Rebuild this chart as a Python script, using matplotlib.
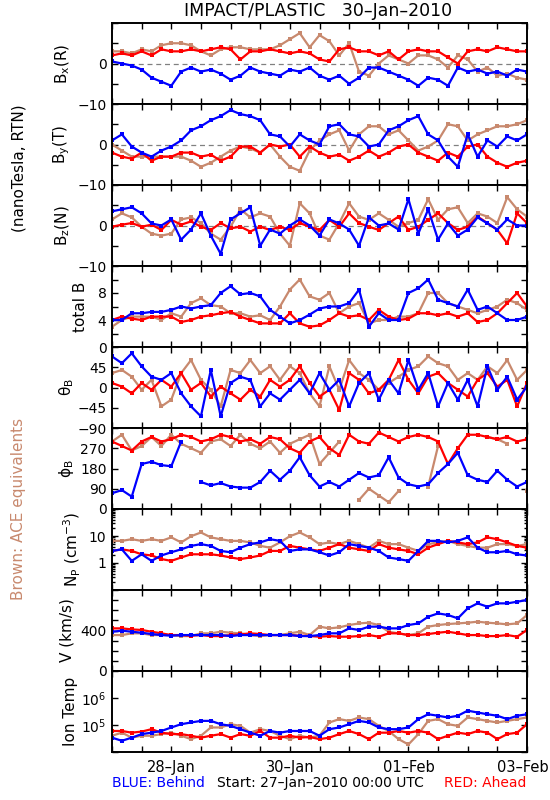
"""STEREO IMPACT/PLASTIC summary plot, 27-Jan to 03-Feb 2010.

Nine stacked panels (B components, |B|, field angles, density, speed,
ion temperature) for STEREO Behind (blue), Ahead (red) and ACE (brown).
"""

import matplotlib

matplotlib.use("Agg")
import matplotlib.pyplot as plt
import matplotlib.ticker as mticker
import matplotlib.transforms as mtransforms
import numpy as np

BLUE = "#0000ff"
RED = "#ff0000"
BROWN = "#c8896e"

plt.rcParams["font.family"] = ["DejaVu Sans"]
plt.rcParams["mathtext.default"] = "regular"

# 4-hourly samples, days since 27-Jan-2010 00:00 UTC
t_days = np.arange(43) / 6.0

day_ticks = [1, 3, 5, 7]
day_labels = ["28\u2013Jan", "30\u2013Jan", "01\u2013Feb", "03\u2013Feb"]

# --- B components (nT) ---
bx_ahead = [2, 2.5, 2, 3, 2, 3.5, 3, 3, 3.5, 3, 3.5, 4, 3.5, 1, 3, 3, 3.5,
            3, 2.5, 3, 2.5, 1, 0.5, 3.5, 4, 3, 3, 2, 3, 1, 3, 3.5, 3, 3,
            1.5, 0, 3, 3.5, 3, 4, 3.5, 3, 3]
bx_behind = [0.5, 0, -0.5, -1.5, -3.5, -4.5, -5.5, -2, -1, -2, -1.5, -2.5,
             -4, -3, -1, -2, -2.5, -3, -1.5, -2, -1, -3, -4, -3, -5, -3.5,
             -1, -1, -2, -3, -4, -5.5, -3.5, -4, -5.5, -1, -2, -1.5, -2.5,
             -2, -3, -1.5, -2]
bx_ace = [3, 3, 2.5, 3.5, 3, 4.5, 5, 5, 4.5, 3, 2, 3.5, 4, 4, 3.5, 3.5, 3.5,
          4.5, 6, 7.5, 4, 7, 5.5, 2, 5, -2, -3, 0, 2, 1, 0, 2, 2, 1, -1, 2,
          1, -2, -1, -3, -2.5, -3.5, -4]

by_ahead = [-2, -3, -3.5, -2, -4, -3, -3, -2, -2, -3, -2.5, -4, -3, -0.5,
            -0.5, -2, 0, -0.5, 0, -3, -0.5, -2, -3, -2.5, -4, -3, -1.5, -3,
            -2, -0.5, 0, -2, -3, -4, -2, -3, -0.5, 0, -3, -4.5, -5.5, -4.5,
            -4]
by_behind = [1, 2.5, -0.5, -2, -3, -1.5, -0.5, 1, 3.5, 4.5, 6, 7, 8.5, 7.5,
             7, 6, 2.5, 2, -0.5, 2.5, 1, 0, 4.5, 5, 2.5, 2, -0.5, 0, 3.5,
             4.5, 6, 7, 2.5, 1, -3, -5.5, 2.5, -3, 1, -0.5, 2, 1, 2.5]
by_ace = [0, -1.5, -3, -3, -3, -3, -3, -3, -4, -5.5, -4.5, -3, -1.5, -0.5,
          -1, -2, 0, -3, -5.5, -6.5, -1.5, 1, 2.5, 3.5, -1.5, 2.5, 4.5, 4.5,
          2.5, 3.5, 1, -1.5, -0.5, 1, 5, 4.5, 1, 2.5, 3.5, 4.5, 4.5, 5, 6]

bz_ahead = [-0.3, 0.2, 0.6, -0.3, 0.2, -1.1, 1.4, 0.2, 1, -0.3, -1.1, 0.6,
            -0.7, -0.3, -1.5, -0.3, -1.1, -0.3, -1.1, 0.6, -0.3, -1.1, 1.4,
            -0.3, 3, 0.6, -0.3, -1.1, 0.6, 2.2, -1.1, -0.3, 1.4, 3, 0.6,
            -1.1, -0.3, 2.2, 0.6, -1.1, -4.4, 3, 0.6]
bz_behind = [3.5, 4, 4.5, 3, 0.5, 0, 1.5, -3.5, -1, 3, -2.5, -7, 1.5, 3, 4.5,
             -5, -1, -2, 0, 1.5, 0, -2.5, 1.5, 0.5, -1, -5, 2, 0, 0.5, -1,
             6.5, -2, 4, -3.5, 0.5, -2.5, -1, 2, 0.5, -1, 1.5, 0, 0]
bz_ace = [1.5, 3, 2, -0.3, -2, -2.5, -2, 1.5, 2, 0.6, -2, -3.5, -0.3, 4, 2,
          3, 2.2, -2, -5, 5.5, 3, -2.5, -3.5, 0.6, 5.5, 2.2, 1.4, 3, 1.4,
          -0.3, 0.6, 1.4, 6.5, 1.4, 4, 4.5, 0.6, 3, 2.2, 0.6, 7, 4, 2.2]

btot_ahead = [4, 4.5, 4.2, 4, 4.5, 4.5, 4.5, 3.7, 4, 4.5, 4.7, 5, 5.2, 4.5,
              4, 3.5, 3.5, 3.5, 5, 3.5, 3, 3.2, 4, 5, 4.5, 4.7, 4, 5.5, 4.5,
              4, 4.2, 5, 5, 4.7, 5, 4.5, 5, 3.7, 4, 5, 6.5, 8, 6]
btot_behind = [4, 4, 5, 5, 5.2, 5.2, 5.5, 6, 5.7, 6, 6.2, 8, 9, 7.8, 8, 7.5,
               5.5, 4.5, 3.5, 4, 4.8, 5.7, 6, 6, 6.5, 8.5, 3, 5, 4, 4, 8,
               8.7, 10, 7, 6.5, 6, 8.5, 5.5, 6, 5, 4, 4, 4.5]
btot_ace = [3, 4, 4.5, 4.5, 4.5, 4, 5, 4.5, 6.5, 7.2, 6.2, 6, 5, 5, 4.5, 4.7,
            4, 6, 8.5, 10, 7.5, 7, 8, 5, 6, 6.5, 3.5, 4, 4, 4.5, 4.5, 5, 8,
            8, 6.5, 6, 5.5, 5, 5.5, 6, 7, 6.5, 5.5]

# --- field angles (deg) ---
theta_ahead = [10, 2, -13, 10, -5, 17, 2, 32, -5, 10, -20, 2, -13, -27, -5,
               -20, 17, 2, 17, 47, 10, -20, -5, -50, 32, 17, -13, -5, 17, 61,
               17, -13, 24, 32, 10, -5, -20, 17, 32, 2, 17, -42, 10]
theta_behind = [69, 54, 76, 47, 24, 17, 32, -13, -42, -64, 39, -64, 10, 24,
                17, -42, -13, -27, -5, 17, -13, 32, -5, 17, -42, 10, 32, -27,
                17, -13, 61, -5, 32, -42, 10, -27, 17, -42, 47, -5, 24, -27, 2]
theta_ace = [32, 39, 24, -5, 17, -42, -27, 32, 61, 17, -5, -42, 39, 32, 61,
             32, 47, 17, 47, 32, -13, -42, 47, -5, 61, 32, 17, -5, 10, 24, 39,
             47, 69, 54, 47, 17, 32, 17, 47, 32, 61, 17, 39]

phi_ahead = [300, 280, 260, 300, 320, 300, 310, 330, 320, 300, 310, 330, 320,
             300, 310, 290, 320, 310, 270, 250, 300, 320, 270, 240, 330, 300,
             290, 340, 320, 300, 320, 330, 320, 300, 200, 270, 330, 330, 320,
             310, 320, 300, 310]
phi_behind = [70, 84, 55, 200, 210, 195, 190, 300, 110, 120, 105, 115, 100,
              95, 95, 120, 170, 130, 170, 230, 150, 100, 120, 100, 130, 160,
              140, 150, 230, 140, 110, 100, 110, 160, 200, 250, 150, 130, 120,
              170, 130, 100, 120]
phi_ace = [300, 330, 260, 280, 320, 280, 330, 290, 270, 250, 300, 310, 280,
           330, 290, 270, 300, 250, 290, 310, 330, 200, 250, 300, 20, 40, 90,
           60, 30, 80, 350, 60, 100, 280, 70, 300, 90, 300, 320, 310, 290, 60,
           80]

# --- plasma ---
np_ahead = [2.8, 3.2, 2.8, 2.1, 1.9, 1.4, 1.2, 1.6, 2.1, 2.1, 2.1, 1.9, 1.6,
            1.4, 1.6, 1.9, 2.8, 2.8, 4.3, 3.7, 3.2, 2.8, 3.7, 5.0, 3.7, 3.2,
            2.8, 5.0, 3.7, 3.2, 2.8, 2.1, 3.7, 5.0, 6.6, 5.8, 5.0, 5.8, 8.9,
            7.6, 5.8, 4.3, 3.7]
np_behind = [2.8, 3.2, 1.2, 2.1, 1.2, 1.9, 2.5, 3.2, 4.3, 5.0, 4.3, 2.8, 2.5,
             3.7, 5.0, 5.8, 7.6, 6.6, 2.8, 3.2, 3.2, 2.5, 1.9, 2.5, 5.0, 4.3,
             3.7, 2.8, 1.6, 1.4, 1.2, 2.8, 6.6, 6.6, 5.8, 6.6, 8.9, 3.7, 2.5,
             2.5, 2.8, 2.1, 1.9]
np_ace = [6.6, 6.6, 7.6, 6.6, 7.6, 6.6, 8.9, 5.8, 9.8, 13.5, 8.9, 7.6, 6.6,
          6.6, 5.8, 4.3, 3.7, 5.8, 9.8, 13.5, 8.9, 5.0, 5.8, 5.0, 6.6, 5.0,
          3.7, 6.6, 5.0, 5.0, 3.7, 2.8, 5.0, 5.8, 6.6, 5.0, 4.3, 3.7, 3.7,
          5.0, 5.0, 4.3, 5.0]

v_ahead = [421, 421, 411, 405, 388, 372, 355, 355, 349, 355, 345, 345, 355,
           362, 372, 365, 355, 355, 355, 349, 345, 339, 345, 339, 339, 345,
           355, 339, 372, 372, 355, 355, 365, 378, 388, 372, 355, 355, 345,
           345, 355, 339, 405]
v_behind = [388, 398, 388, 378, 365, 355, 349, 355, 355, 355, 355, 355, 345,
            355, 355, 355, 355, 355, 355, 345, 345, 355, 372, 372, 421, 405,
            438, 438, 421, 421, 454, 470, 536, 569, 553, 520, 619, 668, 635,
            668, 668, 684, 701]
v_ace = [355, 355, 372, 372, 355, 355, 355, 345, 345, 372, 372, 388, 378, 372,
         355, 345, 355, 355, 372, 388, 355, 438, 421, 431, 454, 470, 477, 454,
         388, 372, 355, 372, 438, 454, 464, 470, 477, 487, 477, 470, 461, 470,
         553]

temp_ahead = [6e4, 6e4, 5.2e4, 5.7e4, 7e4, 5.2e4, 4.6e4, 4.6e4, 4e4, 3.4e4,
              4e4, 4.6e4, 3.4e4, 4.6e4, 4e4, 6e4, 3.4e4, 3.4e4, 4e4, 3.4e4,
              3.6e4, 3e4, 3.4e4, 4.6e4, 6e4, 4.6e4, 3e4, 5.2e4, 5.2e4, 6e4,
              5.2e4, 6e4, 5.2e4, 3e4, 4e4, 5.2e4, 4.6e4, 6e4, 5.2e4, 3e4,
              4.6e4, 5.2e4, 1.07e5]
temp_behind = [3.4e4, 2.6e4, 3.4e4, 4.6e4, 5.2e4, 6e4, 8.1e4, 1.07e5, 1.24e5,
               1.42e5, 1.42e5, 1.07e5, 9.3e4, 7e4, 5.2e4, 4e4, 6e4, 5.2e4,
               6e4, 6e4, 6e4, 4e4, 7e4, 8.1e4, 1.07e5, 1.42e5, 1.24e5, 8.1e4,
               7e4, 7e4, 8.1e4, 1.65e5, 2.5e5, 2.2e5, 1.9e5, 2.2e5, 3.4e5,
               2.9e5, 2.5e5, 2.2e5, 1.65e5, 2.2e5, 2.5e5]
temp_ace = [4e4, 5.2e4, 3.4e4, 4e4, 4e4, 4.6e4, 5.2e4, 4e4, 3e4, 4e4, 8.1e4,
            8.1e4, 1.07e5, 9.3e4, 5.2e4, 7e4, 6e4, 4e4, 3e4, 4e4, 3.4e4, 4e4,
            1.24e5, 1.65e5, 1.42e5, 1.9e5, 1.65e5, 9.3e4, 6e4, 3e4, 1.9e4,
            4.6e4, 1.42e5, 1.65e5, 1.07e5, 9.3e4, 1.9e5, 1.65e5, 1.42e5,
            1.24e5, 1.42e5, 1.65e5, 1.9e5]


def break_wraps(values, limit=180):
    """Insert NaN where an angle wraps around, so no line crosses the panel."""
    out = np.asarray(values, dtype=float).copy()
    jumps = np.abs(np.diff(out)) > limit
    out[1:][jumps] = np.nan
    return out


# label, (ace, ahead, behind), ylim, ticks, shown labels, log, zero line, label x
panels = [
    ("B$_x$(R)", (bx_ace, bx_ahead, bx_behind), (-10, 10),
     [-10, -5, 0, 5, 10], {-10: "\u221210", 0: "0"}, False, True, 72),
    ("B$_y$(T)", (by_ace, by_ahead, by_behind), (-10, 10),
     [-10, -5, 0, 5, 10], {-10: "\u221210", 0: "0"}, False, True, 72),
    ("B$_z$(N)", (bz_ace, bz_ahead, bz_behind), (-10, 10),
     [-10, -5, 0, 5, 10], {-10: "\u221210", 0: "0"}, False, True, 72),
    ("total B", (btot_ace, btot_ahead, btot_behind), (0, 12),
     [0, 2, 4, 6, 8, 10, 12], {0: "0", 4: "4", 8: "8"}, False, False, 88),
    (r"$\theta_B$", (theta_ace, theta_ahead, theta_behind), (-90, 90),
     [-90, -45, 0, 45, 90],
     {-90: "\u221290", -45: "\u221245", 0: "0", 45: "45"}, False, False, 76),
    (r"$\phi_B$", (phi_ace, phi_ahead, phi_behind), (0, 360),
     [0, 90, 180, 270, 360], {0: "0", 90: "90", 180: "180", 270: "270"},
     False, False, 76),
    ("N$_P$ (cm$^{-3}$)", (np_ace, np_ahead, np_behind), (0.1, 100),
     [0.1, 1, 10, 100], {1: "1", 10: "10"}, True, False, 83),
    ("V (km/s)", (v_ace, v_ahead, v_behind), (0, 800),
     list(range(0, 801, 100)), {0: "0", 400: "400"}, False, False, 74),
    ("Ion Temp", (temp_ace, temp_ahead, temp_behind), (1e4, 1e7),
     [1e4, 1e5, 1e6, 1e7], {1e5: "10$^5$", 1e6: "10$^6$"}, True, False, 78),
]

W, H = 550, 800
LEFT, RIGHT, TOP, PH = 112, 527, 23, 81

fig = plt.figure(figsize=(W / 100, H / 100), dpi=100)

for i, (label, series, ylim, ticks, shown, logy, zero, lab_x) in enumerate(panels):
    bottom = 1 - (TOP + PH * (i + 1)) / H
    ax = fig.add_axes([LEFT / W, bottom, (RIGHT - LEFT) / W, PH / H])
    if logy:
        ax.set_yscale("log")
    if zero:
        ax.axhline(0, color="gray", ls=(0, (4, 3)), lw=0.9, zorder=1)

    for vals, color in zip(series, (BROWN, RED, BLUE)):
        y = break_wraps(vals) if label == r"$\phi_B$" else np.asarray(vals, float)
        ax.plot(t_days, y, color=color, lw=1.6, marker="s", ms=2.2, mew=0,
                zorder=2)

    ax.set_xlim(0, 7)
    ax.set_ylim(*ylim)
    ax.yaxis.set_major_locator(mticker.FixedLocator(ticks))
    ax.yaxis.set_major_formatter(
        mticker.FixedFormatter([shown.get(t, "") for t in ticks]))
    if logy and label.startswith("N"):
        ax.yaxis.set_minor_locator(
            mticker.LogLocator(base=10, subs=np.arange(2, 10)))
        ax.yaxis.set_minor_formatter(mticker.NullFormatter())
    else:
        ax.yaxis.set_minor_locator(mticker.NullLocator())

    xt = np.arange(0, 7.01, 0.5)
    ax.set_xticks(xt)
    if i == len(panels) - 1:
        ax.set_xticklabels([day_labels[day_ticks.index(d)] if d in day_ticks
                            else "" for d in xt])
    else:
        ax.set_xticklabels([])

    ax.tick_params(which="both", direction="in", top=True, right=True,
                   width=1.0, labelsize=10, pad=4)
    ax.tick_params(which="major", length=4)
    ax.tick_params(which="minor", length=2.5)
    ax.tick_params(axis="x", labelsize=10.5, pad=6)
    for sp in ax.spines.values():
        sp.set_linewidth(1.4)

    ax.set_ylabel(label, fontsize=11)
    ax.yaxis.set_label_coords((lab_x - LEFT) / (RIGHT - LEFT), 0.5)

    if i == len(panels) - 1:
        # nudge the last date label so it stays inside the figure
        last = ax.get_xticklabels()[-1]
        last.set_transform(last.get_transform() + mtransforms.ScaledTranslation(
            -4 / 100, 0, fig.dpi_scale_trans))

fig.text(318 / W, 1 - 11 / H, "IMPACT/PLASTIC   30\u2013Jan\u20132010",
         ha="center", va="center", fontsize=12.5)
fig.text(19 / W, 1 - 168 / H, "(nanoTesla, RTN)", rotation=90,
         ha="center", va="center", fontsize=11)
fig.text(19 / W, 1 - 509 / H, "Brown: ACE equivalents", rotation=90,
         ha="center", va="center", fontsize=11, color=BROWN)
fig.text(112 / W, 1 - 783 / H, "BLUE: Behind", ha="left", va="center",
         fontsize=10, color=BLUE)
fig.text(320 / W, 1 - 783 / H, "Start: 27\u2013Jan\u20132010 00:00 UTC",
         ha="center", va="center", fontsize=10)
fig.text(526 / W, 1 - 783 / H, "RED: Ahead", ha="right", va="center",
         fontsize=10, color=RED)

fig.savefig("out.png", dpi=100)
plt.close(fig)
